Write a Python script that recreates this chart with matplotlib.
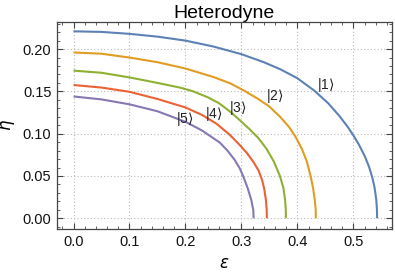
import numpy as np
import matplotlib
matplotlib.use("Agg")
import matplotlib.pyplot as plt
from matplotlib.ticker import MultipleLocator, FormatStrFormatter

plt.rcParams['font.family'] = ['Liberation Sans', 'DejaVu Sans']

# curves: (epsilon, eta) for each state
eps1 = [0, 0.05, 0.1, 0.15, 0.2, 0.25, 0.3, 0.34, 0.37, 0.4, 0.43, 0.455, 0.475,
        0.49, 0.5, 0.51, 0.52, 0.528, 0.534, 0.538, 0.541, 0.5422, 0.5425]
eta1 = [0.221, 0.2203, 0.218, 0.2147, 0.210, 0.203, 0.194, 0.1845, 0.176, 0.1655, 0.151,
        0.136, 0.121, 0.108, 0.098, 0.087, 0.074, 0.061, 0.048, 0.036, 0.022, 0.010, 0.0]

eps2 = [0, 0.05, 0.1, 0.15, 0.2, 0.25, 0.28, 0.3045, 0.33, 0.35, 0.369, 0.385, 0.397,
        0.408, 0.417, 0.4235, 0.428, 0.431, 0.4328, 0.433]
eta2 = [0.196, 0.1945, 0.190, 0.1845, 0.177, 0.167, 0.1595, 0.151, 0.141, 0.132, 0.120,
        0.108, 0.096, 0.082, 0.067, 0.050, 0.036, 0.022, 0.010, 0.0]

eps3 = [0, 0.05, 0.1, 0.15, 0.19, 0.214, 0.24, 0.26, 0.28, 0.297, 0.315, 0.33, 0.345,
        0.358, 0.3688, 0.375, 0.378, 0.3793, 0.3795]
eta3 = [0.1745, 0.172, 0.1665, 0.160, 0.1545, 0.150, 0.143, 0.136, 0.126, 0.116, 0.105,
        0.095, 0.082, 0.067, 0.050, 0.036, 0.022, 0.010, 0.0]

eps4 = [0, 0.05, 0.1, 0.15, 0.2, 0.23, 0.255, 0.277, 0.295, 0.31, 0.322, 0.331, 0.337,
        0.341, 0.3437, 0.3452, 0.3455]
eta4 = [0.1575, 0.1545, 0.1495, 0.141, 0.131, 0.122, 0.112, 0.100, 0.088, 0.077, 0.066,
        0.056, 0.045, 0.034, 0.022, 0.010, 0.0]

eps5 = [0, 0.05, 0.1, 0.15, 0.2, 0.229, 0.2616, 0.275, 0.288, 0.297, 0.303, 0.311,
        0.3175, 0.3212, 0.3218]
eta5 = [0.144, 0.1405, 0.1347, 0.1265, 0.114, 0.104, 0.0894, 0.080, 0.069, 0.059, 0.050,
        0.036, 0.022, 0.010, 0.0]

labels = [r'|1$\rangle$', r'|2$\rangle$', r'|3$\rangle$', r'|4$\rangle$', r'|5$\rangle$']
label_pos = [(0.45, 0.158), (0.36, 0.144), (0.294, 0.130), (0.25, 0.123), (0.199, 0.117)]
colors = ['#5E81B5', '#E19C24', '#8FB032', '#EB6235', '#8778B3']

fig = plt.figure(figsize=(3.95, 2.74), dpi=100)
ax = fig.add_axes([0.1443, 0.1642, 0.8477, 0.7555])

curves = [(eps1, eta1), (eps2, eta2), (eps3, eta3), (eps4, eta4), (eps5, eta5)]
for (e, h), c in zip(curves, colors):
    ax.plot(e, h, color=c, lw=1.5, solid_capstyle='butt', solid_joinstyle='round')

for lab, (x, y) in zip(labels, label_pos):
    ax.text(x, y, lab, fontsize=10, ha='center', va='center', color='#222222')

ax.set_xlim(-0.0295, 0.5688)
ax.set_ylim(-0.0127, 0.232)
ax.xaxis.set_major_locator(MultipleLocator(0.1))
ax.xaxis.set_minor_locator(MultipleLocator(0.02))
ax.yaxis.set_major_locator(MultipleLocator(0.05))
ax.yaxis.set_minor_locator(MultipleLocator(0.01))
ax.xaxis.set_major_formatter(FormatStrFormatter('%.1f'))
ax.yaxis.set_major_formatter(FormatStrFormatter('%.2f'))

ax.tick_params(which='both', direction='in', top=True, right=True,
               colors='#444444', labelcolor='#111111', labelsize=10.5)
ax.tick_params(which='major', length=4, width=0.8, pad=4)
ax.tick_params(which='minor', length=2, width=0.6)
for s in ax.spines.values():
    s.set_color('#444444')
    s.set_linewidth(0.9)

ax.grid(which='major', color='#bbbbbb', linestyle=(0, (1, 2)), linewidth=0.8)

ax.set_xlabel(r'$\epsilon$', fontsize=12, labelpad=5)
ax.set_ylabel(r'$\eta$', fontsize=12, labelpad=4)
ax.set_title('Heterodyne', fontsize=14, pad=1)

fig.savefig('out.png', dpi=100)
